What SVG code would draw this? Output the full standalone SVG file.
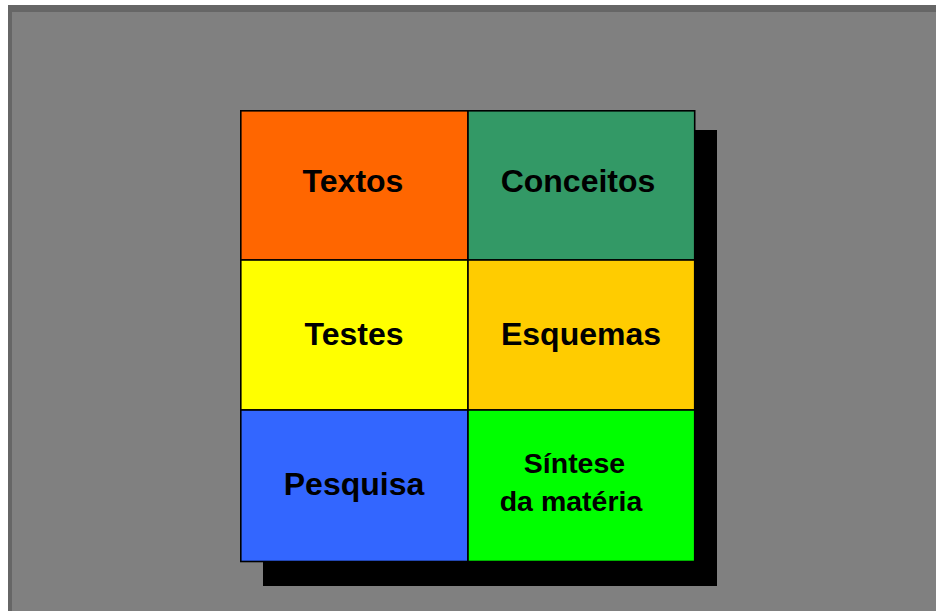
<svg xmlns="http://www.w3.org/2000/svg" width="936" height="611" viewBox="0 0 936 611">
<style>
.cell{stroke:#000;stroke-width:1.6}
.t{font-family:"Liberation Sans",Arial,sans-serif;font-weight:bold;font-size:32px;fill:#000;text-anchor:middle}
.s{font-size:28.5px}
</style>
<rect x="0" y="0" width="936" height="611" fill="#ffffff"/>
<rect x="8" y="5" width="928" height="606" fill="#666666"/>
<rect x="12" y="12" width="924" height="599" fill="#808080"/>
<rect x="263" y="130" width="454" height="456" fill="#000"/>
<g id="textos"><rect class="cell" x="240.8" y="110.8" width="227.2" height="149.2" fill="#FF6600"/><text class="t" x="353" y="192">Textos</text></g>
<g id="conceitos"><rect class="cell" x="468" y="110.8" width="226.7" height="149.2" fill="#339966"/><text class="t" x="578" y="192">Conceitos</text></g>
<g id="testes"><rect class="cell" x="240.8" y="260" width="227.2" height="150" fill="#FFFF00"/><text class="t" x="354" y="345">Testes</text></g>
<g id="esquemas"><rect class="cell" x="468" y="260" width="226.7" height="150" fill="#FFCC00"/><text class="t" x="581" y="345">Esquemas</text></g>
<g id="pesquisa"><rect class="cell" x="240.8" y="410" width="227.2" height="151.5" fill="#3366FF"/><text class="t" x="354" y="495">Pesquisa</text></g>
<g id="sintese"><rect class="cell" x="468" y="410" width="226.7" height="151.5" fill="#00FF00"/><text class="t s" x="574.5" y="473">Síntese</text><text class="t s" x="571" y="511">da matéria</text></g>
<g id="connectors"></g>
</svg>
